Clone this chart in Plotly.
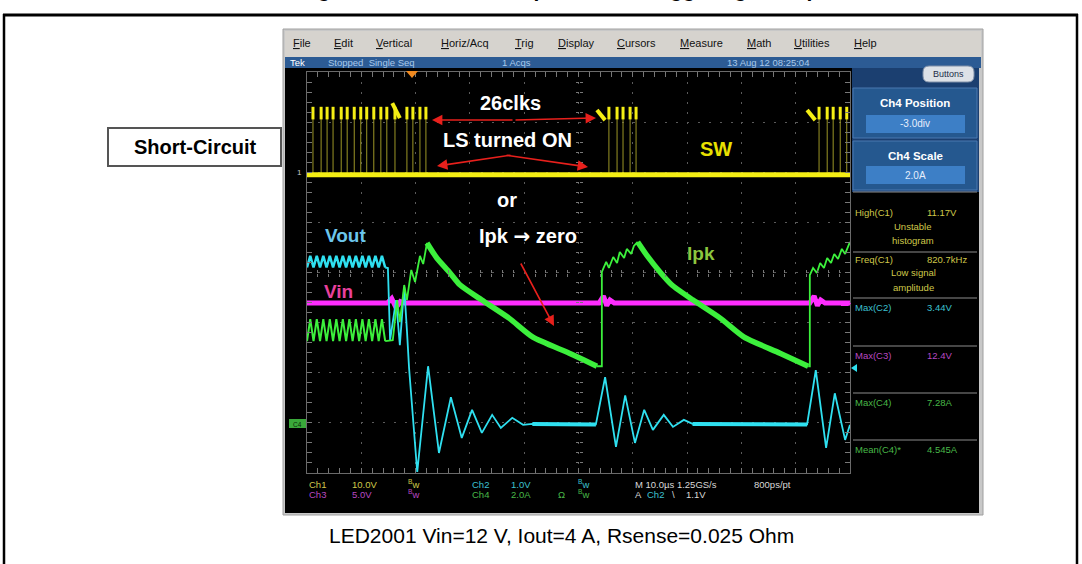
import plotly.graph_objects as go

# canvas / pixel helpers (layout decoration only)
W, H = 1082, 564
FONT = "Arial"


def px(x):
    return x / W


def py(y):
    return 1 - y / H


# ---------------------------------------------------------------------------
# Data: time in microseconds (10 us/div), vertical position in screen divisions
# ---------------------------------------------------------------------------
TIME_RANGE = [0, 100]
DIV_RANGE = [-4, 4]

# SW (Ch1) switching pulses
SW_PULSE_T = [1.1, 2.6, 3.7, 4.8, 6.3, 7.4, 8.7, 9.9, 11.0, 12.3, 13.6, 14.7,
              16.2, 18.4, 19.5, 20.8, 21.9,
              55.6, 57.1, 58.2, 59.5, 60.6,
              94.3, 95.8, 96.9, 98.2, 99.4]
SW_LOW = 1.95
SW_HIGH = 3.18
SW_EDGE_T0 = [15.7, 53.4, 92.1]
SW_EDGE_V0 = [3.38, 3.24, 3.24]
SW_EDGE_T1 = [17.1, 54.9, 93.6]
SW_EDGE_V1 = [3.08, 3.04, 3.04]

# ripple before the short circuit (Vout and Ipk share the time points)
RIPPLE_T = [0.0, 0.6, 1.2, 1.8, 2.4, 3.0, 3.6, 4.2, 4.8, 5.4, 6.0, 6.6, 7.2,
            7.8, 8.4, 9.0, 9.6, 10.2, 10.8, 11.4, 12.0, 12.6, 13.2, 13.8, 14.4]
VOUT_RIPPLE_V = [0.10, 0.33, 0.10, 0.33, 0.10, 0.33, 0.10, 0.33, 0.10, 0.33,
                 0.10, 0.33, 0.10, 0.33, 0.10, 0.33, 0.10, 0.33, 0.10, 0.33,
                 0.10, 0.33, 0.10, 0.33, 0.10]
IPK_RIPPLE_V = [-1.37, -0.93, -1.37, -0.93, -1.37, -0.93, -1.37, -0.93, -1.37,
                -0.93, -1.37, -0.93, -1.37, -0.93, -1.37, -0.93, -1.37, -0.93,
                -1.37, -0.93, -1.37, -0.93, -1.37, -0.93, -1.37]

# Vout (Ch2) after the short
VOUT_T = [14.4, 14.9, 15.3, 16.4, 17.1, 17.9, 18.4, 18.8, 20.3, 22.3, 24.3,
          26.5, 28.5, 30.4, 32.2, 34.1, 35.7, 37.8, 39.8, 41.5, 53.2, 54.9,
          56.9, 58.6, 60.4, 62.1, 63.7, 65.7, 67.4, 69.4, 71.0, 92.1, 93.7,
          95.6, 97.2, 99.1, 100.0]
VOUT_V = [0.10, 0.09, -1.35, -0.55, -1.45, -0.29, -1.15, -1.91, -3.98, -1.87,
          -3.60, -2.49, -3.30, -2.74, -3.20, -2.84, -3.10, -2.90, -3.04, -3.02,
          -3.03, -2.09, -3.48, -2.45, -3.40, -2.74, -3.14, -2.84, -3.08, -2.94,
          -3.02, -3.03, -1.95, -3.50, -2.41, -3.34, -3.04]
VOUT_FLAT_T = [41.5, 53.2, None, 71.0, 92.1]
VOUT_FLAT_V = [-3.02, -3.03, None, -3.02, -3.03]

# Vin (Ch3)
VIN_T = [0, 14.8, 15.6, 16.4, 17.2, 18.0, 53.8, 54.6, 55.2, 55.8, 56.6,
         92.6, 93.4, 94.0, 94.6, 95.4, 100]
VIN_V = [-0.61, -0.61, -0.52, -0.70, -0.58, -0.61, -0.61, -0.47, -0.66, -0.55,
         -0.61, -0.61, -0.47, -0.66, -0.55, -0.61, -0.61]

# Ipk (Ch4) current: fast rise segments and slow decay ramps
IPK_RISE_T = [14.4, 15.8, 16.6, 17.1, 17.9, 18.4, 19.2, 19.9, 20.8, 21.4, 22.1,
              None, 53.4, 54.3, 54.3, 55.1, 55.6, 56.4, 57.1, 57.6, 58.4, 58.9,
              59.7, 60.2, 60.9,
              None, 92.3, 92.6, 92.6, 93.2, 93.9, 94.5, 95.2, 95.8, 96.5,
              97.1, 97.8, 98.5, 99.1, 100.0]
IPK_RISE_V = [-1.37, -1.35, -0.55, -0.99, -0.25, -0.55, 0.05, -0.19, 0.33,
              0.17, 0.59,
              None, -1.87, -1.87, 0.01, 0.21, 0.09, 0.31, 0.19, 0.41, 0.29,
              0.47, 0.37, 0.53, 0.61,
              None, -1.87, -1.87, -0.05, 0.09, -0.01, 0.19, 0.09, 0.29, 0.19,
              0.37, 0.27, 0.47, 0.37, 0.61]
IPK_DECAY_T = [22.1, 23.9, 26.2, 28.2, 32.2, 37.2, 41.6, 48.3, 53.4,
               None, 60.9, 62.8, 65.0, 67.2, 71.1, 76.1, 80.5, 87.1, 92.3]
IPK_DECAY_V = [0.59, 0.29, 0.01, -0.25, -0.55, -0.91, -1.29, -1.61, -1.87,
               None, 0.61, 0.31, 0.01, -0.25, -0.55, -0.91, -1.29, -1.61, -1.87]

# scope UI texts
MENU_ITEMS = ["File", "Edit", "Vertical", "Horiz/Acq", "Trig", "Display",
              "Cursors", "Measure", "Math", "Utilities", "Help"]
MENU_X = [291, 332, 374, 439, 513, 556, 615, 678, 745, 792, 852]
MEAS_LABELS = ["High(C1)", "Freq(C1)", "Max(C2)", "Max(C3)", "Max(C4)", "Mean(C4)*"]
MEAS_VALUES = ["11.17V", "820.7kHz", "3.44V", "12.4V", "7.28A", "4.545A"]
MEAS_Y = [213, 259, 307, 355, 402, 449]
MEAS_COLORS = ["#cfc84a", "#cfc84a", "#3cc0d0", "#b848c0", "#48b848", "#48b848"]

# colours
YELLOW = "#f4ee14"
CYAN = "#2fe0f0"
MAGENTA = "#ff2cff"
GREEN = "#3cf03c"
RED = "#e8201c"

fig = go.Figure()

# --- traces ---------------------------------------------------------------
fig.add_trace(go.Scatter(x=VIN_T, y=VIN_V, mode="lines",
                         line=dict(color=MAGENTA, width=5)))

fig.add_trace(go.Scatter(x=RIPPLE_T, y=VOUT_RIPPLE_V, mode="lines",
                         line=dict(color=CYAN, width=2.5)))
fig.add_trace(go.Scatter(x=VOUT_T, y=VOUT_V, mode="lines",
                         line=dict(color=CYAN, width=1.8)))
fig.add_trace(go.Scatter(x=VOUT_FLAT_T, y=VOUT_FLAT_V, mode="lines",
                         line=dict(color=CYAN, width=4)))

fig.add_trace(go.Scatter(x=RIPPLE_T, y=IPK_RIPPLE_V, mode="lines",
                         line=dict(color=GREEN, width=2)))
fig.add_trace(go.Scatter(x=IPK_RISE_T, y=IPK_RISE_V, mode="lines",
                         line=dict(color=GREEN, width=1.8)))
fig.add_trace(go.Scatter(x=IPK_DECAY_T, y=IPK_DECAY_V, mode="lines",
                         line=dict(color=GREEN, width=5.5, shape="spline",
                                   smoothing=0.6)))

sw_x, sw_y = [], []
for t in SW_PULSE_T:
    sw_x += [t, t, None]
    sw_y += [SW_LOW, SW_HIGH, None]
fig.add_trace(go.Scatter(x=sw_x, y=sw_y, mode="lines",
                         line=dict(color="#9c9626", width=1)))
fig.add_trace(go.Scatter(x=TIME_RANGE, y=[SW_LOW, SW_LOW], mode="lines",
                         line=dict(color=YELLOW, width=5)))
fig.add_trace(go.Scatter(x=SW_PULSE_T, y=[SW_HIGH] * len(SW_PULSE_T),
                         mode="markers",
                         marker=dict(symbol="line-ns", size=9,
                                     line=dict(color=YELLOW, width=3))))
edge_x, edge_y = [], []
for t0, v0, t1, v1 in zip(SW_EDGE_T0, SW_EDGE_V0, SW_EDGE_T1, SW_EDGE_V1):
    edge_x += [t0, t1, None]
    edge_y += [v0, v1, None]
fig.add_trace(go.Scatter(x=edge_x, y=edge_y, mode="lines",
                         line=dict(color=YELLOW, width=4)))

# empty traces so the centre-tick overlay axes get drawn
for xa, ya in [("x3", "y"), ("x4", "y"), ("x", "y3"), ("x", "y4")]:
    fig.add_trace(go.Scatter(x=[], y=[], xaxis=xa, yaxis=ya))

# --- shapes (screenshot chrome) -------------------------------------------
def rect(x0, y0, x1, y1, fill, line=None, lw=0, layer="below"):
    return dict(type="rect", xref="paper", yref="paper",
                x0=px(x0), x1=px(x1), y0=py(y1), y1=py(y0),
                fillcolor=fill, line=dict(color=line or fill, width=lw),
                layer=layer)


def seg(x0, y0, x1, y1, color, lw=1):
    return dict(type="line", xref="paper", yref="paper",
                x0=px(x0), x1=px(x1), y0=py(y0), y1=py(y1),
                line=dict(color=color, width=lw), layer="below")


def rounded(x0, y0, x1, y1, r, fill, line):
    p = (f"M {px(x0 + r)},{py(y0)} L {px(x1 - r)},{py(y0)} "
         f"Q {px(x1)},{py(y0)} {px(x1)},{py(y0 + r)} L {px(x1)},{py(y1 - r)} "
         f"Q {px(x1)},{py(y1)} {px(x1 - r)},{py(y1)} L {px(x0 + r)},{py(y1)} "
         f"Q {px(x0)},{py(y1)} {px(x0)},{py(y1 - r)} L {px(x0)},{py(y0 + r)} "
         f"Q {px(x0)},{py(y0)} {px(x0 + r)},{py(y0)} Z")
    return dict(type="path", xref="paper", yref="paper", path=p,
                fillcolor=fill, line=dict(color=line, width=1), layer="below")


def tri(pts, fill, layer="above"):
    p = "M " + " L ".join(f"{px(a)},{py(b)}" for a, b in pts) + " Z"
    return dict(type="path", xref="paper", yref="paper", path=p,
                fillcolor=fill, line=dict(color=fill, width=0), layer=layer)


shapes = [
    # outer frame of the figure
    seg(3, 15, 1078, 15, "black", 3),
    seg(4, 14, 4, 570, "black", 2.5),
    seg(1077, 14, 1077, 570, "black", 2.5),
    # screenshot border + areas
    rect(283, 29, 983, 515, "#c8c8c8", "#a0a0a0", 1),
    rect(285, 31, 981, 57, "#d6d3ce"),
    rect(285, 57, 981, 68, "#2c5b94"),
    rect(285, 68, 979, 513, "#000000"),
    rect(852, 68, 979, 192, "#1b3f70"),
    rect(853, 88, 977, 138, "#25588f", "#4a78b0", 1),
    rect(866, 115, 965, 133, "#3d7fc6"),
    rect(853, 141, 977, 190, "#25588f", "#4a78b0", 1),
    rect(866, 166, 965, 184, "#3d7fc6"),
    rounded(923, 66, 974, 82, 6, "#dde1e7", "#8090a8"),
    # short-circuit label box
    rect(108, 128, 281, 166, "white", "#555555", 2),
    # trigger position marker and channel markers
    tri([(406, 71), (418, 71), (412, 78)], "#f08a20"),
    rect(289, 419, 306, 428, "#3aa83a", layer="above"),
    tri([(841, 301), (848, 301), (851, 303.5), (848, 306), (841, 306)], MAGENTA),
    tri([(851, 368), (857, 364), (857, 372)], CYAN),
]
for y in [192, 252, 298, 346, 393, 440]:
    shapes.append(seg(853, y, 977, y, "#8c8c8c", 1.2))

# --- annotations ----------------------------------------------------------
def txt(x, y, s, size=10, color="white", bold=False, xanchor="left",
        family=FONT):
    return dict(x=px(x), y=py(y), xref="paper", yref="paper",
                text=f"<b>{s}</b>" if bold else s, showarrow=False,
                xanchor=xanchor, yanchor="middle",
                font=dict(size=size, color=color, family=family))


def arrow(tx, ty, hx, hy):
    # tail (tx, ty) -> head (hx, hy), pixel offsets for the tail
    return dict(x=px(hx), y=py(hy), ax=tx - hx, ay=ty - hy, xref="paper",
                yref="paper", axref="pixel", ayref="pixel", text="",
                showarrow=True, arrowhead=2, arrowsize=1.3, arrowwidth=1.6,
                arrowcolor=RED)


ann = [
    # caption above the frame, only its lowest pixels are inside the page
    dict(x=px(568), y=py(3), xref="paper", yref="paper", showarrow=False,
         yanchor="bottom", xanchor="center",
         text="<b>Figure 11. Short-circuit protection: triggering example</b>",
         font=dict(size=21, color="black", family=FONT)),
    txt(195, 147, "Short-Circuit", 20, "black", True, "center"),
    txt(561, 535, "LED2001 Vin=12 V, Iout=4 A, Rsense=0.025 Ohm", 21,
        "black", False, "center"),
    # overlay labels
    txt(510, 103, "26clks", 20, "white", True, "center"),
    txt(507, 140, "LS turned ON", 20, "white", True, "center"),
    txt(507, 200, "or", 20, "white", True, "center"),
    txt(528, 236, "Ipk <span style='font-family:DejaVu Sans'>\u2192</span> zero",
        20, "white", True, "center"),
    txt(345, 235, "Vout", 19, "#6cc6ec", True, "center"),
    txt(338, 291, "Vin", 19, "#e8409c", True, "center"),
    txt(701, 253, "Ipk", 19, "#8cc63f", True, "center"),
    txt(716, 149, "SW", 20, "#e8e000", True, "center"),
    arrow(514, 120, 432, 120),
    arrow(514, 120, 596, 118),
    arrow(512, 155, 437, 166),
    arrow(505, 155, 588, 167),
    arrow(520, 262, 554, 326),
    # status bar
    txt(288, 63, "Tek", 9.5, "white"),
    txt(326, 63, "Stopped  Single Seq", 9.5, "#a9c9ea"),
    txt(500, 63, "1 Acqs", 9.5, "#a9c9ea"),
    txt(768, 63, "13 Aug 12 08:25:04", 9.5, "#a9c9ea", xanchor="center"),
    txt(948, 74, "Buttons", 9, "#1c2c48", xanchor="center"),
    # right panel
    txt(915, 103, "Ch4 Position", 11.5, "white", True, "center"),
    txt(915, 124, "-3.0div", 10, "#e6eefc", False, "center"),
    txt(915, 156, "Ch4 Scale", 11.5, "white", True, "center"),
    txt(915, 175, "2.0A", 10, "#e6eefc", False, "center"),
    txt(913, 226, "Unstable", 9.5, "#cfc84a", xanchor="center"),
    txt(913, 241, "histogram", 9.5, "#cfc84a", xanchor="center"),
    txt(913, 272, "Low signal", 9.5, "#cfc84a", xanchor="center"),
    txt(913, 287, "amplitude", 9.5, "#cfc84a", xanchor="center"),
    # graticule markers
    txt(295, 172, "1", 8, "#c8c8c8"),
    txt(297, 424, "C4", 6.5, "#0a2a0a", xanchor="center"),
    # bottom readout
    txt(307, 484, "Ch1", 9.5, "#cfc84a"),
    txt(350, 484, "10.0V", 9.5, "#cfc84a"),
    txt(406, 484, "<sup>B</sup>w", 9.5, "#cfc84a"),
    txt(470, 484, "Ch2", 9.5, "#3cc0d0"),
    txt(509, 484, "1.0V", 9.5, "#3cc0d0"),
    txt(576, 484, "<sup>B</sup>w", 9.5, "#3cc0d0"),
    txt(633, 484, "M 10.0\u00b5s 1.25GS/s", 9.5, "#d8d8d8"),
    txt(752, 484, "800ps/pt", 9.5, "#d8d8d8"),
    txt(307, 494, "Ch3", 9.5, "#b848c0"),
    txt(350, 494, "5.0V", 9.5, "#b848c0"),
    txt(406, 494, "<sup>B</sup>w", 9.5, "#b848c0"),
    txt(470, 494, "Ch4", 9.5, "#48b848"),
    txt(509, 494, "2.0A", 9.5, "#48b848"),
    txt(556, 494, "\u03a9", 9.5, "#48b848"),
    txt(576, 494, "<sup>B</sup>w", 9.5, "#48b848"),
    txt(633, 494, "A", 9.5, "#d8d8d8"),
    txt(645, 494, "Ch2", 9.5, "#3cc0d0"),
    txt(670, 494, "\\", 9.5, "#d8d8d8"),
    txt(684, 494, "1.1V", 9.5, "#d8d8d8"),
]
for item, x in zip(MENU_ITEMS, MENU_X):
    ann.append(txt(x, 43, f"<u>{item[0]}</u>{item[1:]}", 11, "#111111"))
for lab, val, y, c in zip(MEAS_LABELS, MEAS_VALUES, MEAS_Y, MEAS_COLORS):
    ann.append(txt(853, y, lab, 9.5, c))
    ann.append(txt(925, y, val, 9.5, c))

# --- axes -----------------------------------------------------------------
GRID = "#5a5a5a"
TICK = "#777777"
x_dom = [px(307), px(850)]
y_dom = [py(473), py(72)]
y_mid = (y_dom[0] + y_dom[1]) / 2
x_mid = (x_dom[0] + x_dom[1]) / 2
centre_ticks = dict(showgrid=False, zeroline=False, showline=False,
                    showticklabels=False, ticklen=0, tickcolor=TICK)

fig.update_layout(
    width=W, height=H,
    margin=dict(l=0, r=0, t=0, b=0),
    paper_bgcolor="white",
    plot_bgcolor="rgba(0,0,0,0)",
    showlegend=False,
    hovermode=False,
    shapes=shapes,
    annotations=ann,
    xaxis=dict(domain=x_dom, range=TIME_RANGE, dtick=10, showgrid=True,
               gridcolor=GRID, griddash="2px,8px", gridwidth=1,
               zeroline=False, showticklabels=False, showline=True,
               mirror="allticks", linecolor="#6a6a6a", ticks="inside",
               ticklen=5, tickcolor=TICK,
               minor=dict(dtick=2, ticks="inside", ticklen=3, tickcolor=TICK)),
    yaxis=dict(domain=y_dom, range=DIV_RANGE, dtick=1, showgrid=True,
               gridcolor=GRID, griddash="2px,8.86px", gridwidth=1,
               zeroline=False, showticklabels=False, showline=True,
               mirror="allticks", linecolor="#6a6a6a", ticks="inside",
               ticklen=5, tickcolor=TICK,
               minor=dict(dtick=0.2, ticks="inside", ticklen=3,
                          tickcolor=TICK)),
    xaxis3=dict(overlaying="x", anchor="free", position=y_mid,
                range=TIME_RANGE, dtick=10, ticks="inside",
                minor=dict(dtick=2, ticks="inside", ticklen=3,
                           tickcolor=TICK), **centre_ticks),
    xaxis4=dict(overlaying="x", anchor="free", position=y_mid,
                range=TIME_RANGE, dtick=10, ticks="outside",
                minor=dict(dtick=2, ticks="outside", ticklen=3,
                           tickcolor=TICK), **centre_ticks),
    yaxis3=dict(overlaying="y", anchor="free", position=x_mid,
                range=DIV_RANGE, dtick=1, ticks="inside",
                minor=dict(dtick=0.2, ticks="inside", ticklen=3,
                           tickcolor=TICK), **centre_ticks),
    yaxis4=dict(overlaying="y", anchor="free", position=x_mid,
                range=DIV_RANGE, dtick=1, ticks="outside",
                minor=dict(dtick=0.2, ticks="outside", ticklen=3,
                           tickcolor=TICK), **centre_ticks),
)

# remove the default page margin so the figure sits at the window origin
fig.write_html("out.html", config={"displayModeBar": False},
               post_script="document.body.style.margin='0';")
